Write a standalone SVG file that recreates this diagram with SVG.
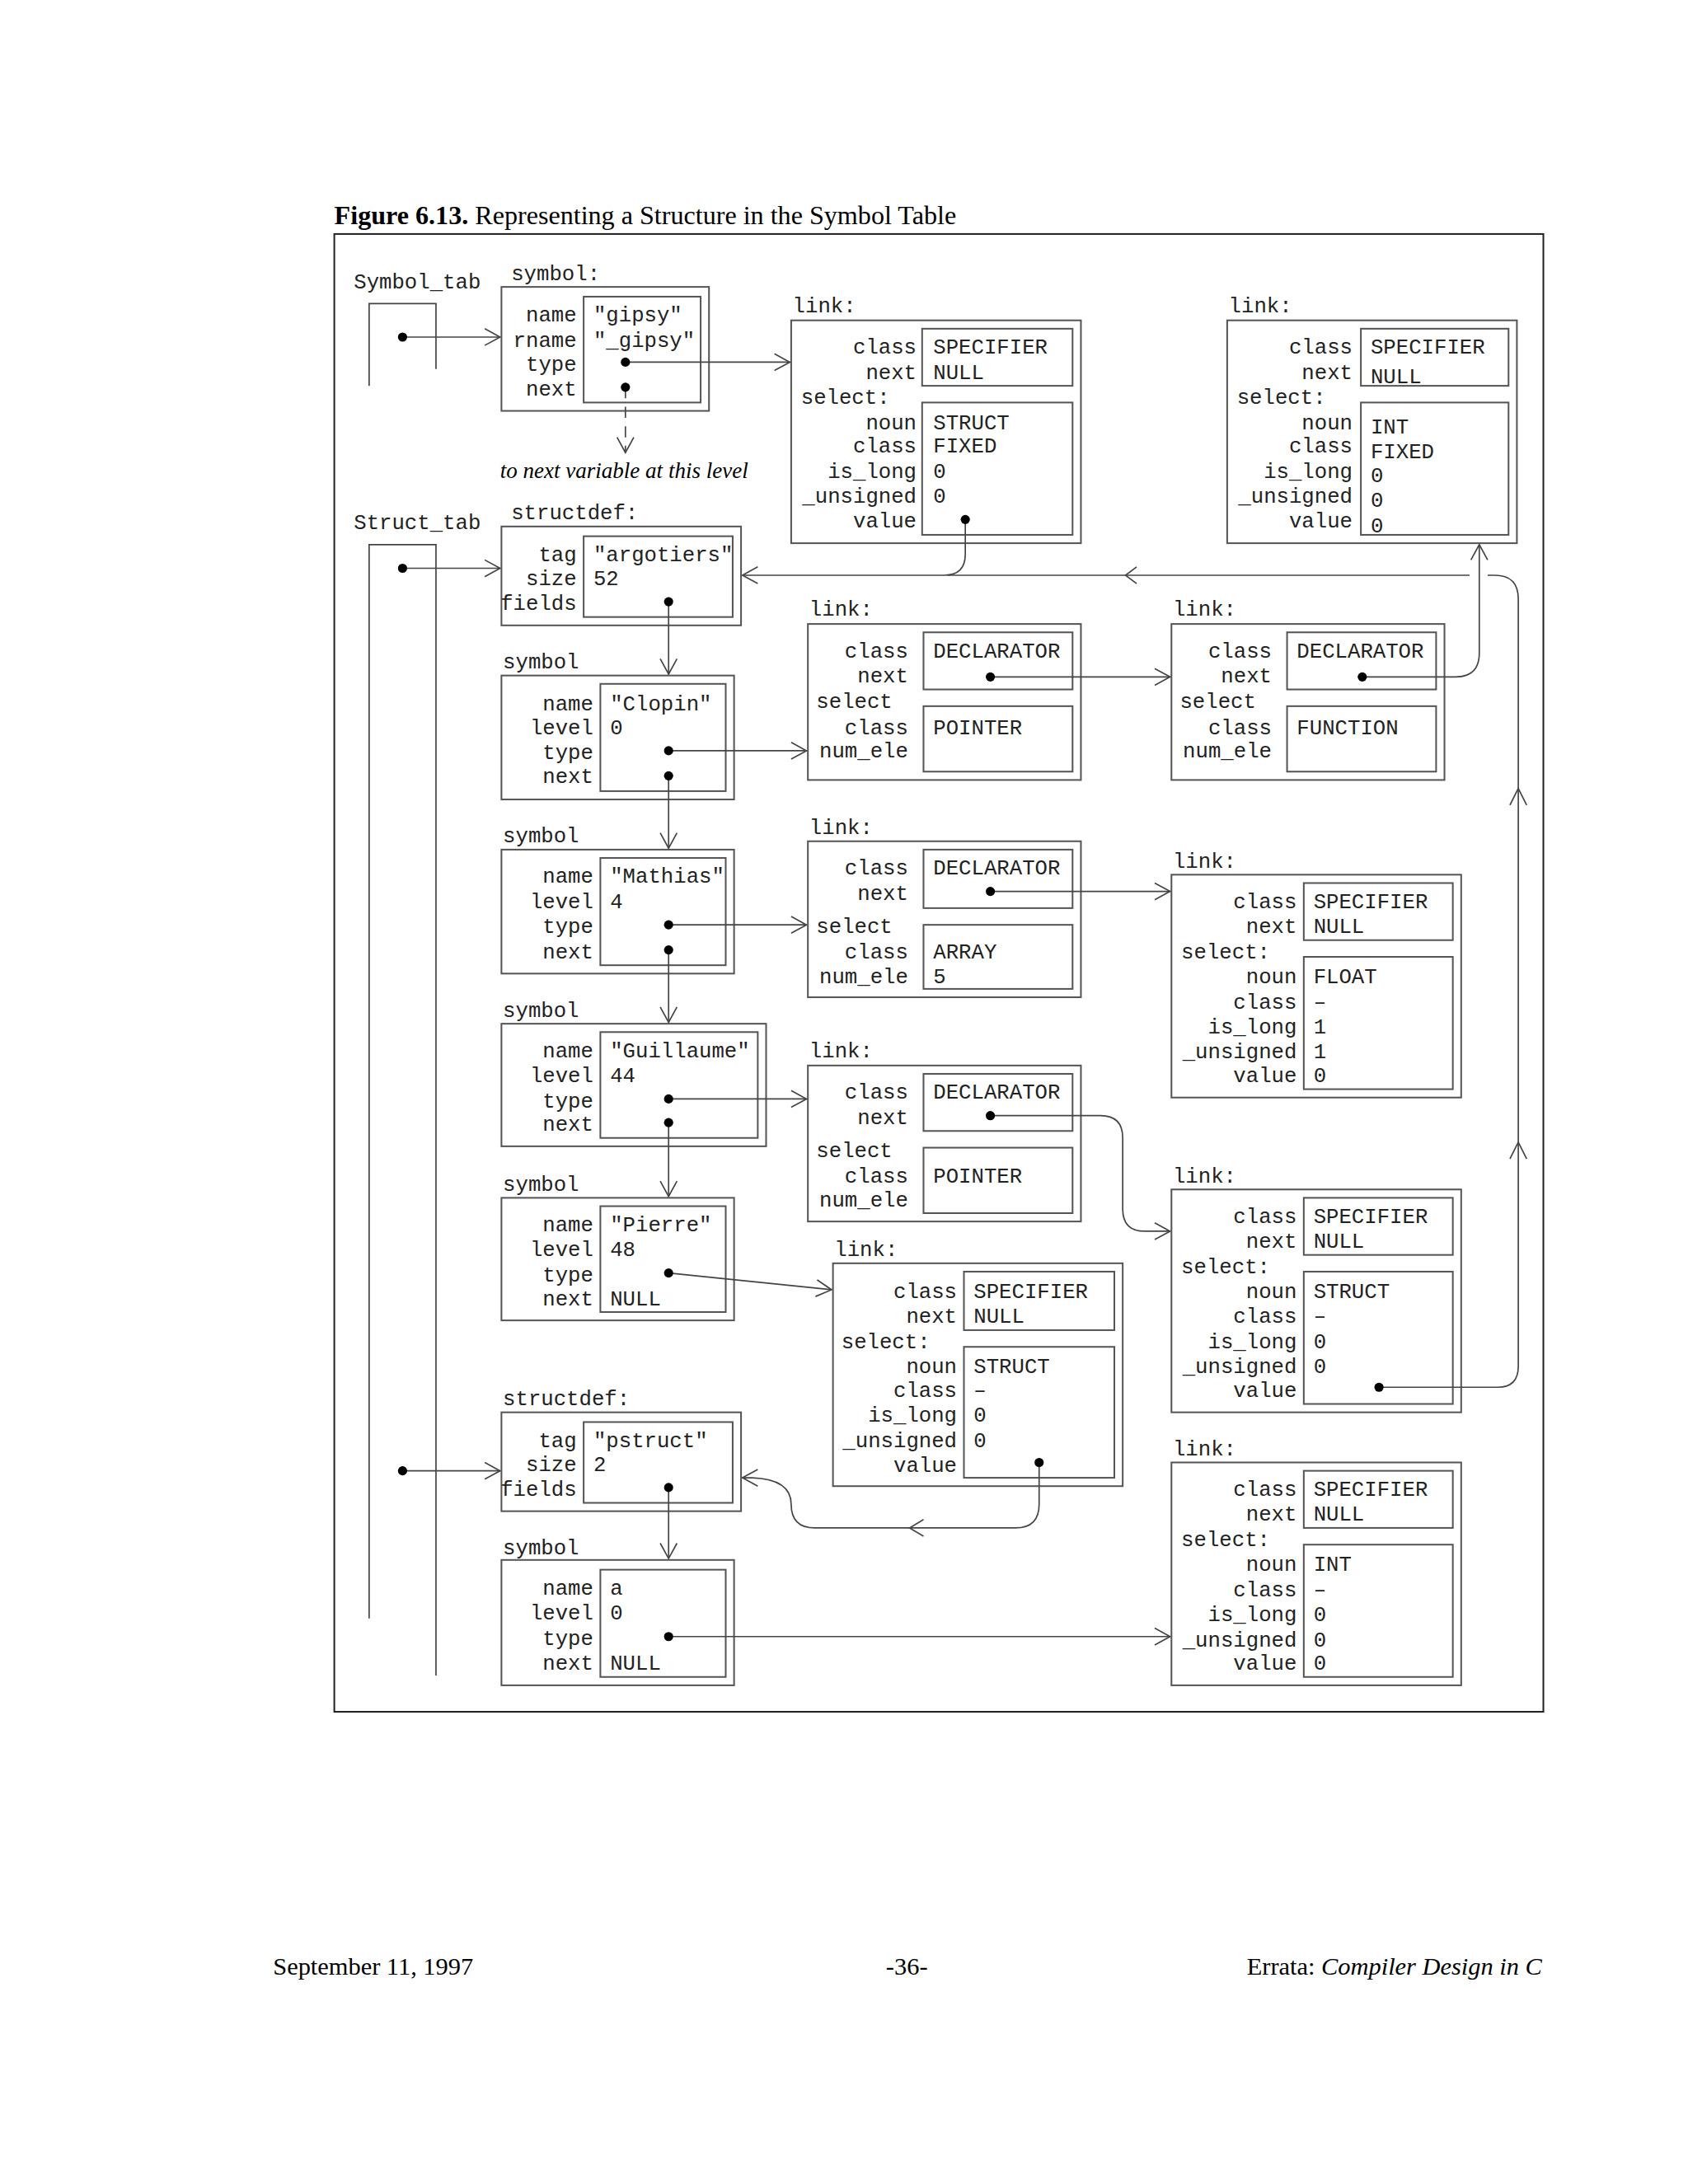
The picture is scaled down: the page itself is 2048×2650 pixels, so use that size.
<svg xmlns="http://www.w3.org/2000/svg" width="2048" height="2650" viewBox="0 0 2048 2650">
<defs>
<style>
.m{font-family:"Liberation Mono","Courier New",monospace;font-size:15.2px;fill:#222}
.r{text-anchor:end}
.b{fill:none;stroke:#555;stroke-width:1.2}
.l{fill:none;stroke:#444;stroke-width:1}
.d{fill:#000}
.t{font-family:"Liberation Serif","Times New Roman",serif;fill:#000}
</style>
<marker id="a" markerWidth="14" markerHeight="14" refX="12" refY="7" orient="auto" markerUnits="userSpaceOnUse"><path d="M1,1 L12,7 L1,13" fill="none" stroke="#444" stroke-width="1"/></marker>
</defs>
<rect width="2048" height="2650" fill="#fff"/>
<g transform="scale(1.690)">
<text class="t" x="240" y="161" font-size="19"><tspan font-weight="bold">Figure 6.13.</tspan> Representing a Structure in the Symbol Table</text>
<rect x="240" y="168" width="868" height="1061" fill="none" stroke="#222" stroke-width="1.2"/>

<g id="symbol_tab">
<text class="m" x="254" y="207">Symbol_tab</text>
<path class="l" d="M265,277 V218 H313 V265"/>
</g>
<g id="struct_tab">
<text class="m" x="254" y="380">Struct_tab</text>
<path class="l" d="M265,1162 V391 H313 V1203"/>
</g>

<g id="sym_gipsy">
<text class="m" x="367" y="201">symbol:</text>
<rect class="b" x="360" y="206" width="149" height="89"/>
<rect class="b" x="419" y="213" width="84" height="76"/>
<text class="m r" x="414" y="231">name</text><text class="m r" x="414" y="249">rname</text><text class="m r" x="414" y="266">type</text><text class="m r" x="414" y="284">next</text>
<text class="m" x="426" y="231">"gipsy"</text><text class="m" x="426" y="249">"_gipsy"</text>
</g>
<text class="t" x="359" y="343" font-size="16" font-style="italic">to next variable at this level</text>

<g id="link1">
<text class="m" x="569" y="224">link:</text>
<rect class="b" x="568" y="230" width="208" height="160"/>
<rect class="b" x="662" y="236" width="108" height="41"/>
<rect class="b" x="662" y="289" width="108" height="95"/>
<text class="m r" x="658" y="254">class</text><text class="m r" x="658" y="272">next</text><text class="m" x="575" y="290">select:</text>
<text class="m r" x="658" y="308">noun</text><text class="m r" x="658" y="325">class</text><text class="m r" x="658" y="343">is_long</text><text class="m r" x="658" y="361">_unsigned</text><text class="m r" x="658" y="379">value</text>
<text class="m" x="670" y="254">SPECIFIER</text><text class="m" x="670" y="272">NULL</text><text class="m" x="670" y="308">STRUCT</text><text class="m" x="670" y="325">FIXED</text><text class="m" x="670" y="343">0</text><text class="m" x="670" y="361">0</text>
</g>

<g id="link2">
<text class="m" x="882" y="224">link:</text>
<rect class="b" x="881" y="230" width="208" height="160"/>
<rect class="b" x="977" y="236" width="106" height="41"/>
<rect class="b" x="977" y="289" width="106" height="95"/>
<text class="m r" x="971" y="254">class</text><text class="m r" x="971" y="272">next</text><text class="m" x="888" y="290">select:</text>
<text class="m r" x="971" y="308">noun</text><text class="m r" x="971" y="325">class</text><text class="m r" x="971" y="343">is_long</text><text class="m r" x="971" y="361">_unsigned</text><text class="m r" x="971" y="379">value</text>
<text class="m" x="984" y="254">SPECIFIER</text><text class="m" x="984" y="275">NULL</text><text class="m" x="984" y="311">INT</text><text class="m" x="984" y="329">FIXED</text><text class="m" x="984" y="346">0</text><text class="m" x="984" y="364">0</text><text class="m" x="984" y="382">0</text>
</g>

<g id="structdef_arg">
<text class="m" x="367" y="373">structdef:</text>
<rect class="b" x="360" y="378" width="172" height="71"/>
<rect class="b" x="419" y="385" width="107" height="58"/>
<text class="m r" x="414" y="403">tag</text><text class="m r" x="414" y="420">size</text><text class="m r" x="414" y="438">fields</text>
<text class="m" x="426" y="403">"argotiers"</text><text class="m" x="426" y="420">52</text>
</g>

<g id="sym_clopin">
<text class="m" x="361" y="480">symbol</text>
<rect class="b" x="360" y="485" width="167" height="89"/>
<rect class="b" x="431" y="491" width="90" height="77"/>
<text class="m r" x="426" y="510">name</text><text class="m r" x="426" y="527">level</text><text class="m r" x="426" y="545">type</text><text class="m r" x="426" y="562">next</text>
<text class="m" x="438" y="510">"Clopin"</text><text class="m" x="438" y="527">0</text>
</g>

<g id="link3">
<text class="m" x="581" y="442">link:</text>
<rect class="b" x="580" y="448" width="196" height="112"/>
<rect class="b" x="663" y="454" width="107" height="41"/>
<rect class="b" x="663" y="507" width="107" height="47"/>
<text class="m r" x="652" y="472">class</text><text class="m r" x="652" y="490">next</text><text class="m" x="586" y="508">select</text><text class="m r" x="652" y="527">class</text><text class="m r" x="652" y="544">num_ele</text>
<text class="m" x="670" y="472">DECLARATOR</text><text class="m" x="670" y="527">POINTER</text>
</g>

<g id="link4">
<text class="m" x="842" y="442">link:</text>
<rect class="b" x="841" y="448" width="196" height="112"/>
<rect class="b" x="924" y="454" width="107" height="41"/>
<rect class="b" x="924" y="507" width="107" height="47"/>
<text class="m r" x="913" y="472">class</text><text class="m r" x="913" y="490">next</text><text class="m" x="847" y="508">select</text><text class="m r" x="913" y="527">class</text><text class="m r" x="913" y="544">num_ele</text>
<text class="m" x="931" y="472">DECLARATOR</text><text class="m" x="931" y="527">FUNCTION</text>
</g>

<g id="sym_mathias">
<text class="m" x="361" y="605">symbol</text>
<rect class="b" x="360" y="610" width="167" height="89"/>
<rect class="b" x="431" y="616" width="90" height="77"/>
<text class="m r" x="426" y="634">name</text><text class="m r" x="426" y="652">level</text><text class="m r" x="426" y="670">type</text><text class="m r" x="426" y="688">next</text>
<text class="m" x="438" y="634">"Mathias"</text><text class="m" x="438" y="652">4</text>
</g>

<g id="link5">
<text class="m" x="581" y="599">link:</text>
<rect class="b" x="580" y="604" width="196" height="112"/>
<rect class="b" x="663" y="610" width="107" height="42"/>
<rect class="b" x="663" y="664" width="107" height="46"/>
<text class="m r" x="652" y="628">class</text><text class="m r" x="652" y="646">next</text><text class="m" x="586" y="670">select</text><text class="m r" x="652" y="688">class</text><text class="m r" x="652" y="706">num_ele</text>
<text class="m" x="670" y="628">DECLARATOR</text><text class="m" x="670" y="688">ARRAY</text><text class="m" x="670" y="706">5</text>
</g>

<g id="link6">
<text class="m" x="842" y="623">link:</text>
<rect class="b" x="841" y="628" width="208" height="160"/>
<rect class="b" x="936" y="634" width="107" height="41"/>
<rect class="b" x="936" y="687" width="107" height="95"/>
<text class="m r" x="931" y="652">class</text><text class="m r" x="931" y="670">next</text><text class="m" x="848" y="688">select:</text>
<text class="m r" x="931" y="706">noun</text><text class="m r" x="931" y="724">class</text><text class="m r" x="931" y="742">is_long</text><text class="m r" x="931" y="760">_unsigned</text><text class="m r" x="931" y="777">value</text>
<text class="m" x="943" y="652">SPECIFIER</text><text class="m" x="943" y="670">NULL</text><text class="m" x="943" y="706">FLOAT</text><text class="m" x="943" y="724">–</text><text class="m" x="943" y="742">1</text><text class="m" x="943" y="760">1</text><text class="m" x="943" y="777">0</text>
</g>

<g id="sym_guillaume">
<text class="m" x="361" y="730">symbol</text>
<rect class="b" x="360" y="735" width="190" height="88"/>
<rect class="b" x="431" y="741" width="113" height="76"/>
<text class="m r" x="426" y="759">name</text><text class="m r" x="426" y="777">level</text><text class="m r" x="426" y="795">type</text><text class="m r" x="426" y="812">next</text>
<text class="m" x="438" y="759">"Guillaume"</text><text class="m" x="438" y="777">44</text>
</g>

<g id="link7">
<text class="m" x="581" y="759">link:</text>
<rect class="b" x="580" y="765" width="196" height="112"/>
<rect class="b" x="663" y="771" width="107" height="41"/>
<rect class="b" x="663" y="824" width="107" height="47"/>
<text class="m r" x="652" y="789">class</text><text class="m r" x="652" y="807">next</text><text class="m" x="586" y="831">select</text><text class="m r" x="652" y="849">class</text><text class="m r" x="652" y="866">num_ele</text>
<text class="m" x="670" y="789">DECLARATOR</text><text class="m" x="670" y="849">POINTER</text>
</g>

<g id="link8">
<text class="m" x="842" y="849">link:</text>
<rect class="b" x="841" y="854" width="208" height="160"/>
<rect class="b" x="936" y="860" width="107" height="41"/>
<rect class="b" x="936" y="913" width="107" height="95"/>
<text class="m r" x="931" y="878">class</text><text class="m r" x="931" y="896">next</text><text class="m" x="848" y="914">select:</text>
<text class="m r" x="931" y="932">noun</text><text class="m r" x="931" y="950">class</text><text class="m r" x="931" y="968">is_long</text><text class="m r" x="931" y="986">_unsigned</text><text class="m r" x="931" y="1003">value</text>
<text class="m" x="943" y="878">SPECIFIER</text><text class="m" x="943" y="896">NULL</text><text class="m" x="943" y="932">STRUCT</text><text class="m" x="943" y="950">–</text><text class="m" x="943" y="968">0</text><text class="m" x="943" y="986">0</text>
</g>

<g id="sym_pierre">
<text class="m" x="361" y="855">symbol</text>
<rect class="b" x="360" y="860" width="167" height="88"/>
<rect class="b" x="431" y="866" width="90" height="76"/>
<text class="m r" x="426" y="884">name</text><text class="m r" x="426" y="902">level</text><text class="m r" x="426" y="920">type</text><text class="m r" x="426" y="937">next</text>
<text class="m" x="438" y="884">"Pierre"</text><text class="m" x="438" y="902">48</text><text class="m" x="438" y="937">NULL</text>
</g>

<g id="link9">
<text class="m" x="599" y="902">link:</text>
<rect class="b" x="598" y="907" width="208" height="160"/>
<rect class="b" x="692" y="913" width="108" height="42"/>
<rect class="b" x="692" y="967" width="108" height="94"/>
<text class="m r" x="687" y="932">class</text><text class="m r" x="687" y="950">next</text><text class="m" x="604" y="968">select:</text>
<text class="m r" x="687" y="986">noun</text><text class="m r" x="687" y="1003">class</text><text class="m r" x="687" y="1021">is_long</text><text class="m r" x="687" y="1039">_unsigned</text><text class="m r" x="687" y="1057">value</text>
<text class="m" x="699" y="932">SPECIFIER</text><text class="m" x="699" y="950">NULL</text><text class="m" x="699" y="986">STRUCT</text><text class="m" x="699" y="1003">–</text><text class="m" x="699" y="1021">0</text><text class="m" x="699" y="1039">0</text>
</g>

<g id="structdef_pstruct">
<text class="m" x="361" y="1009">structdef:</text>
<rect class="b" x="360" y="1014" width="172" height="71"/>
<rect class="b" x="419" y="1021" width="107" height="58"/>
<text class="m r" x="414" y="1039">tag</text><text class="m r" x="414" y="1056">size</text><text class="m r" x="414" y="1074">fields</text>
<text class="m" x="426" y="1039">"pstruct"</text><text class="m" x="426" y="1056">2</text>
</g>

<g id="sym_a">
<text class="m" x="361" y="1116">symbol</text>
<rect class="b" x="360" y="1120" width="167" height="90"/>
<rect class="b" x="431" y="1127" width="90" height="77"/>
<text class="m r" x="426" y="1145">name</text><text class="m r" x="426" y="1163">level</text><text class="m r" x="426" y="1181">type</text><text class="m r" x="426" y="1199">next</text>
<text class="m" x="438" y="1145">a</text><text class="m" x="438" y="1163">0</text><text class="m" x="438" y="1199">NULL</text>
</g>

<g id="link10">
<text class="m" x="842" y="1045">link:</text>
<rect class="b" x="841" y="1050" width="208" height="160"/>
<rect class="b" x="936" y="1056" width="107" height="41"/>
<rect class="b" x="936" y="1109" width="107" height="95"/>
<text class="m r" x="931" y="1074">class</text><text class="m r" x="931" y="1092">next</text><text class="m" x="848" y="1110">select:</text>
<text class="m r" x="931" y="1128">noun</text><text class="m r" x="931" y="1146">class</text><text class="m r" x="931" y="1164">is_long</text><text class="m r" x="931" y="1182">_unsigned</text><text class="m r" x="931" y="1199">value</text>
<text class="m" x="943" y="1074">SPECIFIER</text><text class="m" x="943" y="1092">NULL</text><text class="m" x="943" y="1128">INT</text><text class="m" x="943" y="1146">–</text><text class="m" x="943" y="1164">0</text><text class="m" x="943" y="1182">0</text><text class="m" x="943" y="1199">0</text>
</g>

<g id="connectors">
<path class="l" d="M289,242 H359" marker-end="url(#a)"/>
<path class="l" d="M289,408 H359" marker-end="url(#a)"/>
<path class="l" d="M289,1056 H359" marker-end="url(#a)"/>
<path class="l" d="M449,260 H567" marker-end="url(#a)"/>
<path class="l" d="M449,278 V325" stroke-dasharray="8,6" marker-end="url(#a)"/>
<path class="l" d="M693,373 V398 Q693,413 678,413 H533" marker-end="url(#a)"/>
<path class="l" d="M1055,413 H680"/>
<path class="l" d="M816,407 L808,413 L816,419"/>
<path class="l" d="M990,996 H1075 Q1090,996 1090,981 V430 Q1090,413 1073,413 H1068"/>
<path class="l" d="M1084,578 L1090,566 L1096,578"/>
<path class="l" d="M1084,832 L1090,820 L1096,832"/>
<path class="l" d="M978,486 H1045 Q1062,486 1062,469 V391" marker-end="url(#a)"/>
<path class="l" d="M480,432 V484" marker-end="url(#a)"/>
<path class="l" d="M480,539 H579" marker-end="url(#a)"/>
<path class="l" d="M480,557 V609" marker-end="url(#a)"/>
<path class="l" d="M711,486 H840" marker-end="url(#a)"/>
<path class="l" d="M480,664 H579" marker-end="url(#a)"/>
<path class="l" d="M480,682 V734" marker-end="url(#a)"/>
<path class="l" d="M711,640 H840" marker-end="url(#a)"/>
<path class="l" d="M480,789 H579" marker-end="url(#a)"/>
<path class="l" d="M480,806 V859" marker-end="url(#a)"/>
<path class="l" d="M711,801 H790 Q806,801 806,817 V868 Q806,884 822,884 H840" marker-end="url(#a)"/>
<path class="l" d="M480,914 L597,926" marker-end="url(#a)"/>
<path class="l" d="M746,1050 V1080 Q746,1097 729,1097 H585 Q568,1097 568,1080 Q568,1062 540,1061 H533" marker-end="url(#a)"/>
<path class="l" d="M663,1091 L653,1097 L663,1103"/>
<path class="l" d="M480,1068 V1119" marker-end="url(#a)"/>
<path class="l" d="M480,1175 H840" marker-end="url(#a)"/>
</g>
<g id="dots">
<circle class="d" cx="289" cy="242" r="3.3"/><circle class="d" cx="289" cy="408" r="3.3"/><circle class="d" cx="289" cy="1056" r="3.3"/>
<circle class="d" cx="449" cy="260" r="3.3"/><circle class="d" cx="449" cy="278" r="3.3"/><circle class="d" cx="693" cy="373" r="3.3"/>
<circle class="d" cx="480" cy="432" r="3.3"/><circle class="d" cx="480" cy="539" r="3.3"/><circle class="d" cx="480" cy="557" r="3.3"/>
<circle class="d" cx="711" cy="486" r="3.3"/><circle class="d" cx="978" cy="486" r="3.3"/>
<circle class="d" cx="480" cy="664" r="3.3"/><circle class="d" cx="480" cy="682" r="3.3"/><circle class="d" cx="711" cy="640" r="3.3"/>
<circle class="d" cx="480" cy="789" r="3.3"/><circle class="d" cx="480" cy="806" r="3.3"/><circle class="d" cx="711" cy="801" r="3.3"/>
<circle class="d" cx="480" cy="914" r="3.3"/><circle class="d" cx="990" cy="996" r="3.3"/><circle class="d" cx="746" cy="1050" r="3.3"/>
<circle class="d" cx="480" cy="1068" r="3.3"/><circle class="d" cx="480" cy="1175" r="3.3"/>
</g>

<text class="t" x="196" y="1418" font-size="18">September 11, 1997</text>
<text class="t" x="651" y="1418" font-size="18" text-anchor="middle">-36-</text>
<text class="t" x="1107" y="1418" font-size="18" text-anchor="end">Errata: <tspan font-style="italic">Compiler Design in C</tspan></text>
</g>
</svg>
